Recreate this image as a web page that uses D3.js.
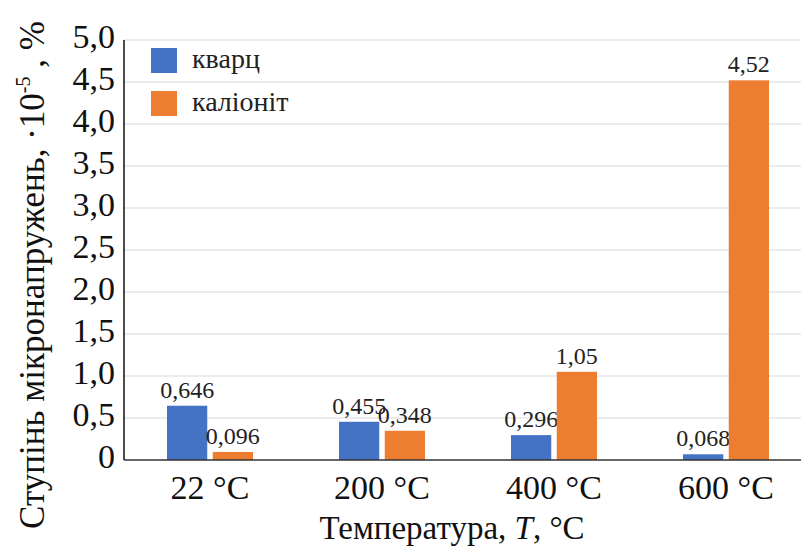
<!DOCTYPE html>
<html><head><meta charset="utf-8">
<script src="https://cdn.jsdelivr.net/npm/d3@7"></script>
<style>body{margin:0;background:#fff}svg{display:block}svg text{font-family:"Liberation Serif",serif}</style>
</head><body><svg id="c" width="801" height="550"></svg>
<script>
const categories = ["22 °C", "200 °C", "400 °C", "600 °C"];
const seriesNames = ["кварц", "каліоніт"];
const quartz = [0.646, 0.455, 0.296, 0.068];
const kalionit = [0.096, 0.348, 1.05, 4.52];
const quartzLabels = ["0,646", "0,455", "0,296", "0,068"];
const kalionitLabels = ["0,096", "0,348", "1,05", "4,52"];
const yTicks = [0, 0.5, 1, 1.5, 2, 2.5, 3, 3.5, 4, 4.5, 5];
const yTickLabels = ["0", "0,5", "1,0", "1,5", "2,0", "2,5", "3,0", "3,5", "4,0", "4,5", "5,0"];
const colors = ["#4472C4", "#ED7D31"];

const svg = d3.select("#c");
const font = "Liberation Serif";
const L = 124, R = 812, T = 40, B = 460;
const x = d3.scaleBand().domain(categories).range([L, R]).paddingInner(0.5).paddingOuter(0.25);
const xs = d3.scaleBand().domain(seriesNames).range([0, x.bandwidth()]).paddingInner(0.12);
const y = d3.scaleLinear().domain([0, 5]).range([B, T]);

// gridlines
svg.append("g").selectAll("line").data(yTicks.slice(1)).join("line")
  .attr("x1", L).attr("x2", 801).attr("y1", d => y(d)).attr("y2", d => y(d))
  .attr("stroke", "#e6e6e6").attr("stroke-width", 1.5);

// bars
const series = [quartz, kalionit];
const labels = [quartzLabels, kalionitLabels];
series.forEach((vals, si) => {
  const g = svg.append("g");
  g.selectAll("rect").data(vals).join("rect")
    .attr("x", (d, i) => x(categories[i]) + xs(seriesNames[si]))
    .attr("width", xs.bandwidth())
    .attr("y", d => y(d)).attr("height", d => B - y(d))
    .attr("fill", colors[si]);
  g.selectAll("text").data(vals).join("text")
    .attr("x", (d, i) => x(categories[i]) + xs(seriesNames[si]) + xs.bandwidth() / 2)
    .attr("y", d => y(d) - 8)
    .attr("text-anchor", "middle").style("font-family", font).attr("font-size", 24)
    .attr("fill", "#222").text((d, i) => labels[si][i]);
});

// axes lines
svg.append("line").attr("x1", L).attr("x2", L).attr("y1", T).attr("y2", B)
  .attr("stroke", "#111").attr("stroke-width", 1.5);
svg.append("line").attr("x1", L).attr("x2", 801).attr("y1", B).attr("y2", B)
  .attr("stroke", "#333").attr("stroke-width", 1.5);

// y tick labels
svg.append("g").selectAll("text").data(yTicks).join("text")
  .attr("x", 115).attr("y", d => y(d) + 8)
  .attr("text-anchor", "end").style("font-family", font).attr("font-size", 34)
  .attr("fill", "#111").text((d, i) => yTickLabels[i]);

// x tick labels
svg.append("g").selectAll("text").data(categories).join("text")
  .attr("x", d => x(d) + x.bandwidth() / 2).attr("y", 499)
  .attr("text-anchor", "middle").style("font-family", font).attr("font-size", 34)
  .attr("fill", "#111").text(d => d);

// x title
const xt = svg.append("text").attr("x", 452).attr("y", 539).attr("text-anchor", "middle")
  .style("font-family", font).attr("font-size", 33).attr("fill", "#111");
xt.append("tspan").text("Температура, ");
xt.append("tspan").attr("font-style", "italic").text("T");
xt.append("tspan").text(", °C");

// y title
const yt = svg.append("text").attr("transform", "translate(44,275) rotate(-90)")
  .attr("text-anchor", "middle").style("font-family", font).attr("font-size", 35).attr("fill", "#111");
yt.append("tspan").text("Ступінь мікронапружень, ·10");
yt.append("tspan").attr("font-size", 20).attr("dy", -14).text("-5");
yt.append("tspan").attr("dy", 14).text(" , %");

// legend
const lg = svg.append("g");
seriesNames.forEach((n, i) => {
  lg.append("rect").attr("x", 151).attr("y", 48 + i * 43).attr("width", 26).attr("height", 25).attr("fill", colors[i]);
  lg.append("text").attr("x", 192).attr("y", 68 + i * 43).style("font-family", font).attr("font-size", 28)
    .attr("fill", "#222").text(n);
});
</script></body></html>
